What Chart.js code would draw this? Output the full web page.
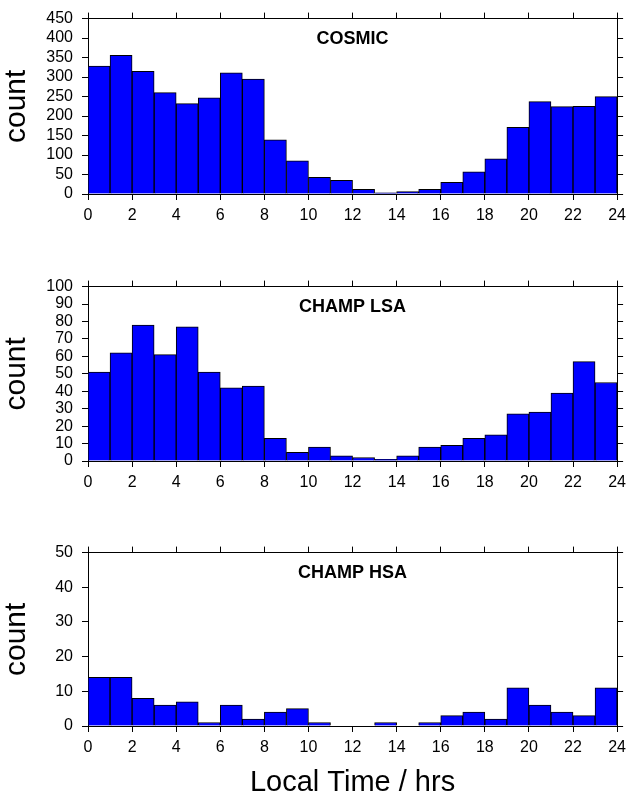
<!DOCTYPE html>
<html>
<head>
<meta charset="utf-8">
<script src="https://cdn.jsdelivr.net/npm/chart.js@4"></script>
<style>
  html, body { margin: 0; padding: 0; background: #fff; }
  body { width: 632px; height: 797px; position: relative; overflow: hidden; }
  .panel { position: absolute; left: 0; width: 632px; }
</style>
</head>
<body>
<div class="panel" style="top:0px;height:230px"><canvas id="cosmic"></canvas></div>
<div class="panel" style="top:268px;height:230px"><canvas id="lsa"></canvas></div>
<div class="panel" style="top:534px;height:263px"><canvas id="hsa"></canvas></div>
<script>
// start of each 1-hour local time bin
const binStarts = [0, 1, 2, 3, 4, 5, 6, 7, 8, 9, 10, 11, 12, 13, 14, 15, 16, 17, 18, 19, 20, 21, 22, 23];

const cosmicCounts = [328, 356, 315, 260, 232, 247, 311, 295, 139, 85, 43, 35, 12, 3, 6, 12, 30, 57, 90, 171, 237, 224, 225, 250];
const lsaCounts = [51, 62, 78, 61, 77, 51, 42, 43, 13, 5, 8, 3, 2, 1, 3, 8, 9, 13, 15, 27, 28, 39, 57, 45];
const hsaCounts = [14, 14, 8, 6, 7, 1, 6, 2, 4, 5, 1, 0, 0, 1, 0, 1, 3, 4, 2, 11, 6, 4, 3, 11];

const xTickStep = 2;
const FONT = '"Liberation Sans", Arial, sans-serif';

// draws the panel name inside the plot box
const panelLabel = {
  id: 'panelLabel',
  afterDraw(chart, args, opts) {
    const { ctx, chartArea } = chart;
    ctx.save();
    ctx.font = 'bold 18px ' + FONT;
    ctx.fillStyle = '#000';
    ctx.textAlign = 'center';
    ctx.textBaseline = 'middle';
    ctx.fillText(opts.text, (chartArea.left + chartArea.right) / 2, chartArea.top + 20);
    ctx.restore();
  }
};

function makeHist(id, name, counts, yMax, yStep, bottomHeight, showXTitle) {
  const tickGrid = {
    drawOnChartArea: false,
    drawTicks: true,
    tickLength: 6,
    color: '#000',
    lineWidth: 1
  };
  const border = { display: true, color: '#000', width: 1 };

  new Chart(document.getElementById(id), {
    type: 'bar',
    data: {
      datasets: [{
        data: binStarts.map((s, i) => ({ x: s + 0.5, y: counts[i] })),
        backgroundColor: '#0000ff',
        borderColor: '#000',
        borderWidth: 1,
        barPercentage: 1.0,
        categoryPercentage: 1.0
      }]
    },
    options: {
      responsive: true,
      maintainAspectRatio: false,
      animation: false,
      devicePixelRatio: 1,
      plugins: {
        legend: { display: false },
        tooltip: { enabled: false },
        panelLabel: { text: name }
      },
      scales: {
        x: {
          type: 'linear',
          position: 'bottom',
          min: 0, max: 24,
          offset: false,
          grid: Object.assign({ offset: false }, tickGrid),
          border: border,
          ticks: {
            stepSize: xTickStep,
            autoSkip: false,
            maxRotation: 0,
            padding: 6,
            color: '#000',
            font: { family: FONT, size: 16 }
          },
          title: {
            display: showXTitle,
            text: 'Local Time / hrs',
            color: '#000',
            font: { family: FONT, size: 29, lineHeight: 1 },
            padding: { top: 0, bottom: 0 }
          },
          afterFit: s => { s.height = bottomHeight; }
        },
        x2: {
          type: 'linear',
          position: 'top',
          min: 0, max: 24,
          offset: false,
          grid: Object.assign({ offset: false }, tickGrid),
          border: border,
          ticks: { stepSize: xTickStep, autoSkip: false, display: false },
          afterFit: s => { s.height = 15; }
        },
        y: {
          position: 'left',
          min: 0, max: yMax,
          grid: tickGrid,
          border: border,
          ticks: {
            stepSize: yStep,
            autoSkip: false,
            padding: 9,
            color: '#000',
            font: { family: FONT, size: 16 }
          },
          title: {
            display: true,
            text: 'count',
            color: '#000',
            font: { family: FONT, size: 30, lineHeight: 1 },
            padding: { top: 2, bottom: 0 }
          },
          afterFit: s => { s.width = 88; }
        },
        y2: {
          position: 'right',
          min: 0, max: yMax,
          grid: tickGrid,
          border: border,
          ticks: { stepSize: yStep, autoSkip: false, display: false },
          afterFit: s => { s.width = 11; }
        }
      }
    },
    plugins: [panelLabel]
  });
}

makeHist('cosmic', 'COSMIC', cosmicCounts, 450, 50, 36, false);
makeHist('lsa', 'CHAMP LSA', lsaCounts, 100, 10, 37, false);
makeHist('hsa', 'CHAMP HSA', hsaCounts, 50, 10, 71, true);
</script>
</body>
</html>
